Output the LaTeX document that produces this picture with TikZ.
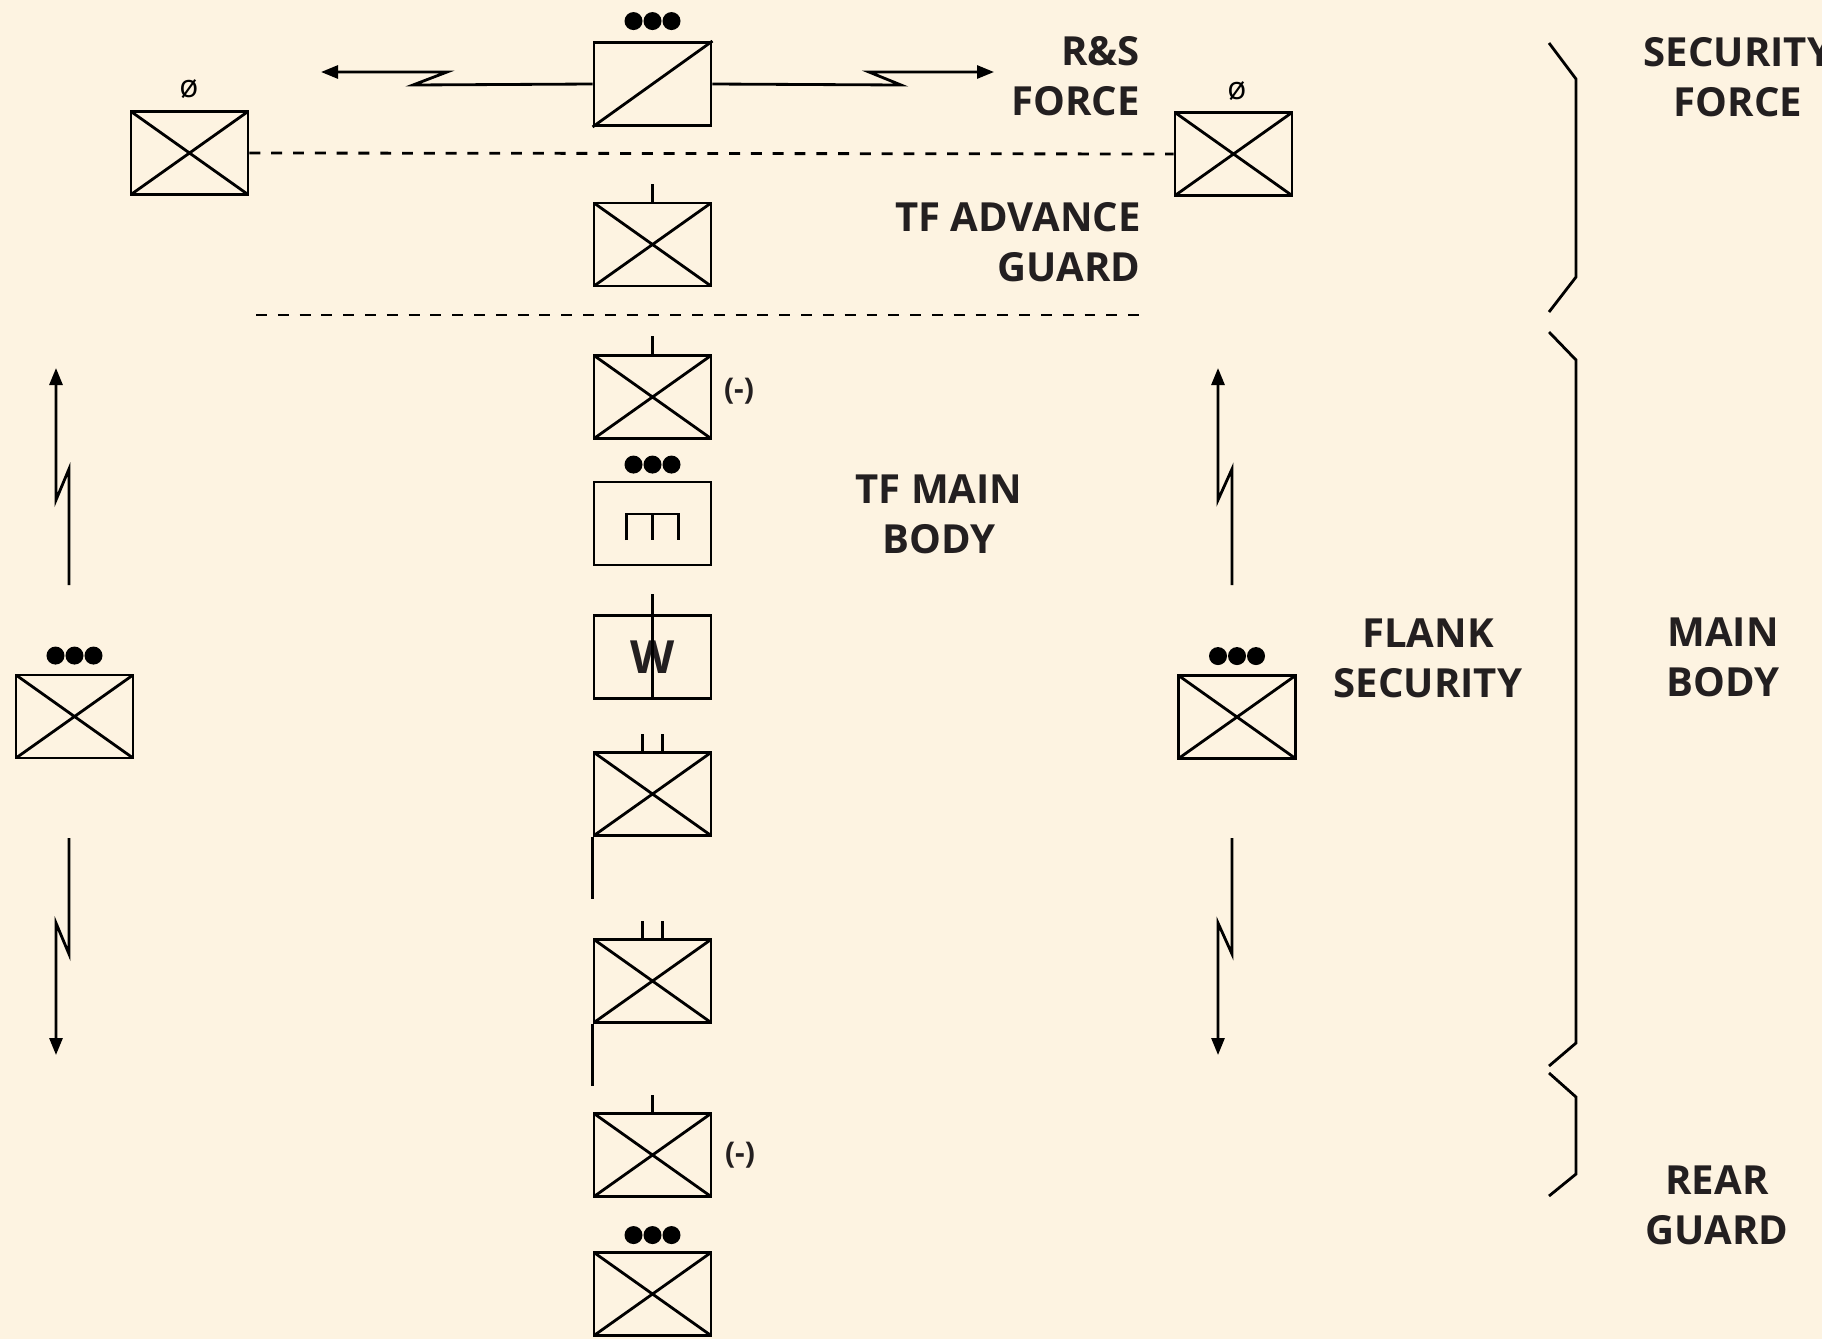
\documentclass[tikz,border=0pt]{standalone}
\usepackage{fontspec}
\setmainfont{Open Sans}
\usetikzlibrary{arrows.meta,calc}
\definecolor{bg}{HTML}{FDF3E1}
\definecolor{ink}{HTML}{231F20}
\newcommand\tfdots[2]{\foreach \dx in {-19,0,19} {\fill ($(#1.north)+(\dx,#2)$) circle (0.09cm);}}
\begin{document}
\begin{tikzpicture}[x=0.01cm,y=-0.01cm,line width=0.8pt,
  unit/.style={draw, minimum width=1.17cm, minimum height=0.83cm, inner sep=0pt},
  xunit/.style={unit, path picture={\draw[line width=0.8pt] (path picture bounding box.north west) -- (path picture bounding box.south east) (path picture bounding box.south west) -- (path picture bounding box.north east);}},
  lbl/.style={font=\bfseries\fontsize{11.4}{14.3}\selectfont, text=ink, align=center, inner sep=0pt},
  small/.style={font=\bfseries\fontsize{8.5}{10}\selectfont, text=ink, inner sep=0pt},
  sym/.style={font=\fontsize{9}{10}\selectfont, inner sep=0pt},
  arr/.style={-{Triangle[length=0.17cm,width=0.13cm]}},
  dashline/.style={dash pattern=on 3.1pt off 3.1pt},
]
\useasboundingbox (0,0) rectangle (1822,1339);
\fill[bg] (0,0) rectangle (1822,1339);

% R&S force
\node[unit] (rs) at (652.5,84) {};
\draw (rs.south west) -- (rs.north east);
\tfdots{rs}{-20}
\draw[arr] (rs.west) -- (413,85) -- (447,72) -- (321,72);
\draw[arr] (rs.east) -- (901,85) -- (869,72) -- (994,72);
\node[lbl, align=right, anchor=east] (rstxt) at (1141,76) {R\&S\\FORCE};

% flank scouts
\node[xunit] (l0) at (189.5,153) {};
\node[sym] (l0s) at (189,89) {ø};
\node[xunit] (r0) at (1233.5,154) {};
\node[sym] (r0s) at (1237,91) {ø};
\draw[dashline] (l0.east) -- (r0.west);

% advance guard
\node[xunit] (adv) at (652.5,244.5) {};
\draw (adv.north) -- ++(0,-18);
\node[lbl, align=right, anchor=east] (advtxt) at (1142,242) {TF ADVANCE\\GUARD};
\coordinate (d2a) at (256,315);
\coordinate (d2b) at (1139,315);
\draw[dashline] (d2a) -- (d2b);

% main body column
\node[xunit] (m1) at (652.5,397) {};
\draw (m1.north) -- ++(0,-18);
\node[small] (m1t) at (739,391) {(-)};

\node[unit] (m2) at (652.5,523.5) {};
\tfdots{m2}{-16}
\draw ($(m2.center)+(-26,16.5)$) -- ++(0,-26) -- ++(52,0) -- ++(0,26);
\draw ($(m2.center)+(0,-9.5)$) -- ++(0,26);
\node[lbl] (mbtxt) at (939,514) {TF MAIN\\BODY};

\node[unit] (m3) at (652.5,657) {};
\node[font=\bfseries\fontsize{13}{14}\selectfont, text=ink, inner sep=0pt] (m3w) at (m3.center) {W};
\draw (m3.south) -- ($(m3.north)+(0,-20)$);

\node[xunit] (m4) at (652.5,794) {};
\draw ($(m4.north)+(-10,0)$) -- ++(0,-17);
\draw ($(m4.north)+(10,0)$) -- ++(0,-17);
\draw (m4.south west) -- ++(0,62);

\node[xunit] (m5) at (652.5,981) {};
\draw ($(m5.north)+(-10,0)$) -- ++(0,-17);
\draw ($(m5.north)+(10,0)$) -- ++(0,-17);
\draw (m5.south west) -- ++(0,62);

% rear guard
\node[xunit] (g1) at (652.5,1155) {};
\draw (g1.north) -- ++(0,-17);
\node[small] (g1t) at (740,1155) {(-)};
\node[xunit] (g2) at (652.5,1294) {};
\tfdots{g2}{-16}

% flank security
\node[xunit] (fl) at (74.5,716.5) {};
\tfdots{fl}{-18}
\coordinate (flu) at (69,585);
\coordinate (fld) at (69,838);
\draw[arr] (flu) -- (69,469) -- (56,500) -- (56,368);
\draw[arr] (fld) -- (69,954) -- (56,923) -- (56,1055);

\node[xunit] (fr) at (1237,717) {};
\tfdots{fr}{-18}
\coordinate (fru) at (1232,585);
\coordinate (frd) at (1232,838);
\draw[arr] (fru) -- (1232,469) -- (1218,500) -- (1218,368);
\draw[arr] (frd) -- (1232,954) -- (1218,923) -- (1218,1055);
\node[lbl] (fstxt) at (1428,658) {FLANK\\SECURITY};

% braces
\draw (1549,43) -- (1576,79) -- (1576,277) -- (1549,312);
\draw (1549,332) -- (1576,360) -- (1576,1043) -- (1549,1066);
\draw (1549,1073) -- (1576,1097) -- (1576,1174) -- (1549,1196);
\node[lbl] (sftxt) at (1738,77) {SECURITY\\FORCE};
\node[lbl] (mbt2) at (1723,657) {MAIN\\BODY};
\node[lbl] (rgtxt) at (1717,1205) {REAR\\GUARD};
\end{tikzpicture}
\end{document}
